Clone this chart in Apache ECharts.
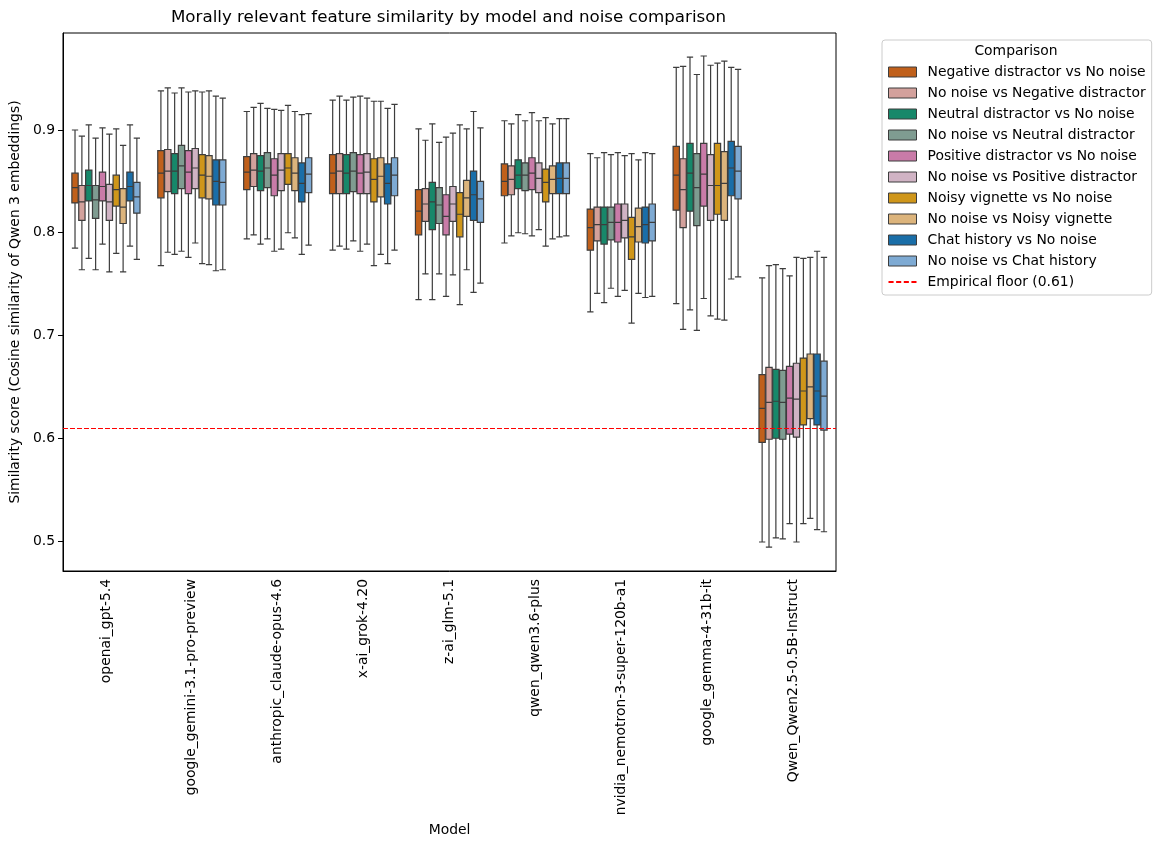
<!DOCTYPE html>
<html>
<head>
<meta charset="utf-8">
<script src="https://cdn.jsdelivr.net/npm/echarts@6/dist/echarts.min.js"></script>
<style>
  html, body { margin: 0; padding: 0; background: #fff; }
  #chart { width: 1160px; height: 846px; }
</style>
</head>
<body>
<div id="chart"></div>
<script>
const FONT = 'DejaVu Sans';

const models = [
  'openai_gpt-5.4', 'google_gemini-3.1-pro-preview', 'anthropic_claude-opus-4.6',
  'x-ai_grok-4.20', 'z-ai_glm-5.1', 'qwen_qwen3.6-plus',
  'nvidia_nemotron-3-super-120b-a1', 'google_gemma-4-31b-it', 'Qwen_Qwen2.5-0.5B-Instruct'
];

const comparisons = [
  'Negative distractor vs No noise', 'No noise vs Negative distractor',
  'Neutral distractor vs No noise', 'No noise vs Neutral distractor',
  'Positive distractor vs No noise', 'No noise vs Positive distractor',
  'Noisy vignette vs No noise', 'No noise vs Noisy vignette',
  'Chat history vs No noise', 'No noise vs Chat history'
];

const colors = [
  '#c0601b', '#d3a19c', '#17886a', '#7f9c91', '#c97ba8',
  '#d0b3c4', '#cf961a', '#dcb47c', '#1a6ea8', '#7eaad3'
];

// [low whisker, Q1, median, Q3, high whisker] per model
const negVsNo = [
  [0.785, 0.829, 0.844, 0.858, 0.900], [0.768, 0.834, 0.858, 0.880, 0.938],
  [0.794, 0.842, 0.859, 0.874, 0.918], [0.783, 0.838, 0.858, 0.876, 0.929],
  [0.735, 0.798, 0.821, 0.842, 0.901], [0.790, 0.836, 0.850, 0.867, 0.909],
  [0.723, 0.783, 0.805, 0.823, 0.877], [0.731, 0.822, 0.856, 0.884, 0.961],
  [0.499, 0.596, 0.629, 0.662, 0.756]
];
const noVsNeg = [
  [0.764, 0.812, 0.830, 0.846, 0.894], [0.781, 0.840, 0.860, 0.881, 0.941],
  [0.798, 0.845, 0.861, 0.877, 0.922], [0.787, 0.838, 0.860, 0.877, 0.933],
  [0.760, 0.811, 0.828, 0.843, 0.890], [0.797, 0.837, 0.852, 0.865, 0.906],
  [0.741, 0.792, 0.808, 0.825, 0.873], [0.706, 0.805, 0.842, 0.872, 0.962],
  [0.494, 0.599, 0.635, 0.669, 0.768]
];
const neuVsNo = [
  [0.775, 0.831, 0.846, 0.861, 0.905], [0.779, 0.838, 0.860, 0.877, 0.936],
  [0.789, 0.841, 0.860, 0.875, 0.926], [0.784, 0.838, 0.858, 0.876, 0.929],
  [0.735, 0.803, 0.830, 0.849, 0.906], [0.800, 0.843, 0.856, 0.871, 0.915],
  [0.732, 0.789, 0.808, 0.825, 0.878], [0.725, 0.821, 0.858, 0.887, 0.971],
  [0.503, 0.600, 0.636, 0.667, 0.769]
];
const noVsNeu = [
  [0.764, 0.814, 0.832, 0.846, 0.892], [0.782, 0.843, 0.865, 0.885, 0.941],
  [0.794, 0.844, 0.863, 0.878, 0.921], [0.792, 0.840, 0.860, 0.878, 0.932],
  [0.760, 0.809, 0.827, 0.844, 0.888], [0.799, 0.841, 0.856, 0.868, 0.909],
  [0.746, 0.793, 0.810, 0.825, 0.876], [0.705, 0.807, 0.844, 0.877, 0.954],
  [0.502, 0.599, 0.635, 0.666, 0.765]
];
const posVsNo = [
  [0.789, 0.831, 0.845, 0.859, 0.902], [0.776, 0.838, 0.859, 0.880, 0.937],
  [0.782, 0.836, 0.856, 0.872, 0.920], [0.782, 0.838, 0.858, 0.876, 0.933],
  [0.738, 0.798, 0.816, 0.837, 0.893], [0.797, 0.842, 0.858, 0.873, 0.917],
  [0.738, 0.791, 0.810, 0.828, 0.878], [0.736, 0.826, 0.857, 0.887, 0.972],
  [0.517, 0.604, 0.639, 0.670, 0.758]
];
const noVsPos = [
  [0.762, 0.812, 0.830, 0.847, 0.896], [0.790, 0.843, 0.863, 0.882, 0.938],
  [0.784, 0.841, 0.861, 0.877, 0.919], [0.789, 0.838, 0.859, 0.877, 0.931],
  [0.759, 0.811, 0.828, 0.845, 0.897], [0.803, 0.839, 0.853, 0.868, 0.909],
  [0.744, 0.795, 0.812, 0.828, 0.875], [0.719, 0.812, 0.846, 0.876, 0.963],
  [0.499, 0.601, 0.638, 0.673, 0.776]
];
const noisyVsNo = [
  [0.780, 0.826, 0.842, 0.856, 0.901], [0.770, 0.834, 0.856, 0.876, 0.937],
  [0.800, 0.847, 0.863, 0.877, 0.924], [0.768, 0.830, 0.852, 0.872, 0.928],
  [0.730, 0.796, 0.818, 0.839, 0.905], [0.787, 0.830, 0.849, 0.862, 0.912],
  [0.712, 0.774, 0.796, 0.815, 0.877], [0.716, 0.818, 0.846, 0.887, 0.965],
  [0.517, 0.613, 0.646, 0.678, 0.775]
];
const noVsNoisy = [
  [0.762, 0.809, 0.825, 0.843, 0.885], [0.769, 0.833, 0.855, 0.875, 0.938],
  [0.795, 0.841, 0.858, 0.873, 0.918], [0.779, 0.835, 0.855, 0.873, 0.928],
  [0.764, 0.816, 0.834, 0.851, 0.901], [0.794, 0.838, 0.852, 0.865, 0.906],
  [0.741, 0.791, 0.806, 0.824, 0.871], [0.715, 0.812, 0.848, 0.879, 0.967],
  [0.522, 0.619, 0.650, 0.682, 0.776]
];
const chatVsNo = [
  [0.787, 0.831, 0.845, 0.859, 0.905], [0.763, 0.827, 0.850, 0.871, 0.933],
  [0.779, 0.830, 0.848, 0.868, 0.915], [0.770, 0.828, 0.848, 0.867, 0.921],
  [0.742, 0.812, 0.837, 0.860, 0.918], [0.796, 0.838, 0.853, 0.868, 0.911],
  [0.737, 0.790, 0.808, 0.825, 0.878], [0.755, 0.836, 0.863, 0.889, 0.961],
  [0.511, 0.613, 0.646, 0.682, 0.782]
];
const noVsChat = [
  [0.774, 0.819, 0.835, 0.849, 0.892], [0.764, 0.827, 0.849, 0.871, 0.931],
  [0.788, 0.839, 0.857, 0.873, 0.916], [0.783, 0.836, 0.856, 0.873, 0.925],
  [0.751, 0.810, 0.833, 0.850, 0.902], [0.797, 0.838, 0.853, 0.868, 0.911],
  [0.738, 0.792, 0.810, 0.828, 0.877], [0.757, 0.833, 0.860, 0.884, 0.959],
  [0.509, 0.608, 0.641, 0.675, 0.776]
];

const boxData = [negVsNo, noVsNeg, neuVsNo, noVsNeu, posVsNo, noVsPos, noisyVsNo, noVsNoisy, chatVsNo, noVsChat];

const floorValue = 0.61;
const floorName = 'Empirical floor (0.61)';
const yTicks = [0.5, 0.6, 0.7, 0.8, 0.9];

const chart = echarts.init(document.getElementById('chart'));

const boxSeries = comparisons.map((name, i) => ({
  name,
  type: 'boxplot',
  data: boxData[i],
  boxWidth: [6.3, 6.3],
  itemStyle: { color: colors[i], borderColor: '#3d3d3d', borderWidth: 1.2 },
  emphasis: { disabled: true },
  z: 3
}));

const option = {
  animation: false,
  backgroundColor: '#fff',
  textStyle: { fontFamily: FONT },
  graphic: [
    {
      type: 'text', x: 448.5, y: 18,
      style: {
        text: 'Morally relevant feature similarity by model and noise comparison',
        font: '16.7px "DejaVu Sans"', fill: '#000', textAlign: 'center', textVerticalAlign: 'middle'
      },
      z: 10
    },
    {
      type: 'text', x: 1016, y: 51,
      style: {
        text: 'Comparison', font: '13.9px "DejaVu Sans"', fill: '#000',
        textAlign: 'center', textVerticalAlign: 'middle'
      },
      z: 10
    }
  ],
  legend: {
    orient: 'vertical',
    left: 882,
    top: 40,
    padding: [25, 6, 6, 6],
    itemGap: 7,
    itemWidth: 28,
    itemHeight: 10,
    backgroundColor: '#fff',
    borderColor: '#cccccc',
    borderWidth: 1,
    borderRadius: 3,
    selectedMode: false,
    textStyle: { fontFamily: FONT, fontSize: 13.9, color: '#000', lineHeight: 14, padding: [0, 0, 0, 6] },
    data: comparisons.map((n, i) => ({
      name: n,
      icon: 'rect',
      itemStyle: { color: colors[i], borderColor: '#3d3d3d', borderWidth: 1 }
    })).concat([{
      name: floorName,
      icon: 'path://M0,4h5v2h-5z M7.5,4h5v2h-5z M15,4h5v2h-5z M22.5,4h5v2h-5z',
      itemStyle: { color: 'red', borderWidth: 0 }
    }])
  },
  grid: { left: 61, top: 33, width: 775, height: 538, show: true, borderColor: '#000', borderWidth: 1 },
  xAxis: {
    type: 'category',
    data: models,
    boundaryGap: true,
    name: 'Model',
    nameLocation: 'middle',
    nameGap: 250,
    nameTextStyle: { fontFamily: FONT, fontSize: 13.9, color: '#000' },
    axisLine: { lineStyle: { color: '#000', width: 1 } },
    axisTick: { alignWithLabel: true, length: 5, lineStyle: { color: '#000' } },
    axisLabel: { rotate: 90, interval: 0, margin: 8, fontFamily: FONT, fontSize: 13.9, color: '#000' },
    splitLine: { show: false }
  },
  yAxis: {
    type: 'value',
    min: 0.4708,
    max: 0.9944,
    name: 'Similarity score (Cosine similarity of Qwen 3 embeddings)',
    nameLocation: 'middle',
    nameGap: 34,
    nameTextStyle: { fontFamily: FONT, fontSize: 13.9, color: '#000' },
    axisLine: { show: true, lineStyle: { color: '#000', width: 1 } },
    axisTick: { show: true, length: 5, customValues: yTicks, lineStyle: { color: '#000' } },
    axisLabel: {
      customValues: yTicks, margin: 8, fontFamily: FONT, fontSize: 13.9, color: '#000',
      formatter: (v) => v.toFixed(1)
    },
    splitLine: { show: false }
  },
  series: boxSeries.concat([{
    name: floorName,
    type: 'line',
    data: [],
    itemStyle: { color: 'red' },
    lineStyle: { color: 'red', width: 1, type: [5, 2] },
    markLine: {
      silent: true,
      symbol: 'none',
      label: { show: false },
      lineStyle: { color: 'red', width: 1, type: [5, 2] },
      data: [{ yAxis: floorValue }]
    },
    z: 2
  }])
};

chart.setOption(option);
</script>
</body>
</html>
